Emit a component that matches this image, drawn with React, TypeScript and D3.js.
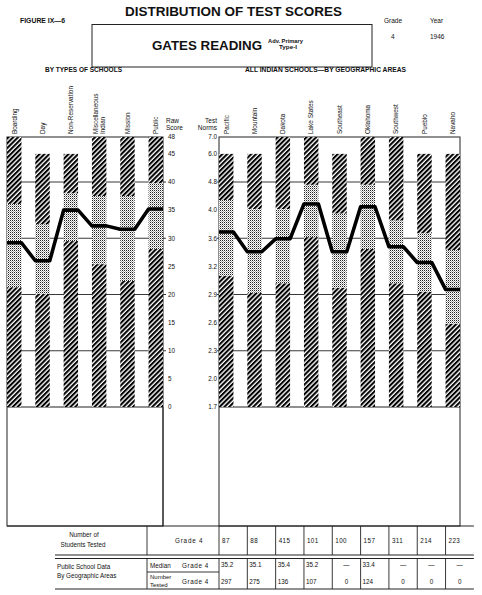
import React from "react";
import * as d3 from "d3";

const schoolTypes = ["Boarding", "Day", "Non-Reservation", "Miscellaneous\nIndian", "Mission", "Public"];
const typeMax = [48, 45, 45, 48, 48, 48];
const typeQ3 = [36.1, 32.5, 38.0, 37.5, 37.5, 39.8];
const typeQ1 = [21.3, 20.1, 29.5, 25.4, 22.4, 28.1];
const typeMedian = [29.2, 26.0, 35.0, 32.2, 31.6, 35.2];

const areas = ["Pacific", "Mountain", "Dakota", "Lake States", "Southeast", "Oklahoma", "Southwest", "Pueblo", "Navaho"];
const areaMax = [45, 45, 48, 48, 45, 48, 48, 45, 45];
const areaQ3 = [36.8, 35.2, 35.2, 39.5, 34.4, 39.5, 33.2, 30.9, 27.9];
const areaQ1 = [23.3, 20.3, 22.0, 30.2, 21.2, 28.1, 22.0, 20.5, 14.8];
const areaMedian = [31.1, 27.6, 29.9, 36.1, 27.6, 35.6, 28.5, 25.7, 20.9];

const rawTicks = [48, 45, 40, 35, 30, 25, 20, 15, 10, 5, 0];
const normLabels = ["7.0", "6.0", "4.8", "4.0", "3.6", "3.2", "2.9", "2.6", "2.3", "2.0", "1.7"];
const gridTicks = [40, 30, 20, 10];

const testedCounts = ["87", "88", "415", "101", "100", "157", "311", "214", "223"];
const publicMedians = ["35.2", "35.1", "35.4", "35.2", "—", "33.4", "—", "—", "—"];
const publicTested = ["297", "275", "136", "107", "0", "124", "0", "0", "0"];

const FONT = "'Liberation Sans', Arial, sans-serif";

function Panel({ cats, maxs, q3s, q1s, meds, x, y, x0, x1 }: any) {
  const line = d3.line<[number, number]>().x((d) => d[0]).y((d) => d[1]);
  const pts: [number, number][] = [];
  cats.forEach((c: string, i: number) => {
    pts.push([x(c), y(meds[i])]);
    pts.push([x(c) + x.bandwidth(), y(meds[i])]);
  });
  return (
    <g>
      {gridTicks.map((t) => (
        <line key={t} x1={x0} x2={x1} y1={y(t)} y2={y(t)} stroke="#222" strokeWidth={0.9} />
      ))}
      {cats.map((c: string, i: number) => {
        const bx = x(c);
        const bw = x.bandwidth();
        return (
          <g key={c}>
            <rect x={bx} width={bw} y={y(q1s[i])} height={y(0) - y(q1s[i])} fill="url(#hatch)" />
            <rect x={bx} width={bw} y={y(q3s[i])} height={y(q1s[i]) - y(q3s[i])} fill="url(#dots)" />
            <rect x={bx} width={bw} y={y(maxs[i])} height={y(q3s[i]) - y(maxs[i])} fill="url(#hatch)" />
          </g>
        );
      })}
      <path d={line(pts) || ""} fill="none" stroke="#000" strokeWidth={3.6} strokeLinejoin="round" />
      {cats.map((c: string) => {
        const lines = c.split("\n");
        const cx = x(c) + x.bandwidth() / 2;
        return lines.map((l, j) => {
          const off = lines.length === 1 ? 2.3 : j === 0 ? -1.6 : 5.6;
          return (
            <text
              key={c + j}
              transform={`translate(${cx + off},134) rotate(-90)`}
              fontSize={6.4}
              fontFamily={FONT}
              fill="#111"
            >
              {l}
            </text>
          );
        });
      })}
    </g>
  );
}

export default function App() {
  const y = d3.scaleLinear().domain([0, 48]).range([407, 137]);
  const xL = d3.scaleBand<string>().domain(schoolTypes).range([7, 163]).paddingInner(0.49).paddingOuter(0);
  const xR = d3.scaleBand<string>().domain(areas).range([219, 460]).paddingInner(0.49).paddingOuter(0);
  const step = xR.step();
  const colStarts = areas.map((a) => xR(a) as number);
  const tableRight = colStarts[colStarts.length - 1] + step;
  const tf = { fontFamily: FONT, fill: "#111" } as any;

  return (
    <svg width={482} height={595} style={{ position: "absolute", left: 0, top: 0, background: "#fff" }}>
      <defs>
        <pattern id="hatch" patternUnits="userSpaceOnUse" width={3.4} height={3.4} patternTransform="rotate(45)">
          <rect width={3.4} height={3.4} fill="#fff" />
          <line x1={1} y1={0} x2={1} y2={3.4} stroke="#000" strokeWidth={2.1} />
        </pattern>
        <pattern id="dots" patternUnits="userSpaceOnUse" width={2} height={2}>
          <rect width={2} height={2} fill="#fff" />
          <rect x={0} y={0} width={1} height={1} fill="#222" />
          <rect x={1} y={1} width={1} height={1} fill="#a8a8a8" />
        </pattern>
      </defs>

      {/* Header */}
      <text x={125} y={16} fontSize={13.5} fontWeight="bold" textLength={217} lengthAdjust="spacingAndGlyphs" {...tf}>
        DISTRIBUTION OF TEST SCORES
      </text>
      <text x={20} y={23} fontSize={6.5} fontWeight="bold" textLength={45} lengthAdjust="spacingAndGlyphs" {...tf}>
        FIGURE IX—6
      </text>
      <rect x={92} y={24.5} width={280} height={42.5} fill="none" stroke="#222" strokeWidth={1} />
      <text x={152} y={50} fontSize={13} fontWeight="bold" textLength={110} lengthAdjust="spacingAndGlyphs" {...tf}>
        GATES READING
      </text>
      <text x={268} y={43} fontSize={5.2} fontWeight="bold" textLength={35} lengthAdjust="spacingAndGlyphs" {...tf}>
        Adv. Primary
      </text>
      <text x={279} y={49} fontSize={5.2} fontWeight="bold" textLength={18} lengthAdjust="spacingAndGlyphs" {...tf}>
        Type-I
      </text>
      <text x={384} y={23} fontSize={6.5} {...tf}>Grade</text>
      <text x={430} y={23} fontSize={6.5} {...tf}>Year</text>
      <text x={391} y={39} fontSize={6.5} {...tf}>4</text>
      <text x={430} y={39} fontSize={6.5} {...tf}>1946</text>
      <text x={45} y={72} fontSize={7} fontWeight="bold" textLength={77} lengthAdjust="spacingAndGlyphs" {...tf}>
        BY TYPES OF SCHOOLS
      </text>
      <text x={245} y={72} fontSize={7} fontWeight="bold" textLength={161} lengthAdjust="spacingAndGlyphs" {...tf}>
        ALL INDIAN SCHOOLS—BY GEOGRAPHIC AREAS
      </text>

      {/* Frames */}
      <rect x={7} y={137} width={156} height={389} fill="none" stroke="#222" strokeWidth={1} />
      <rect x={219} y={137} width={241} height={389} fill="none" stroke="#222" strokeWidth={1} />
      <line x1={7} x2={163} y1={y(0)} y2={y(0)} stroke="#222" strokeWidth={1.2} />
      <line x1={219} x2={460} y1={y(0)} y2={y(0)} stroke="#222" strokeWidth={1.2} />

      <Panel cats={schoolTypes} maxs={typeMax} q3s={typeQ3} q1s={typeQ1} meds={typeMedian} x={xL} y={y} x0={7} x1={166} />
      <Panel cats={areas} maxs={areaMax} q3s={areaQ3} q1s={areaQ1} meds={areaMedian} x={xR} y={y} x0={217} x1={460} />

      {/* Axis labels */}
      <text x={166} y={123} fontSize={6.5} {...tf}>Raw</text>
      <text x={166} y={130} fontSize={6.5} {...tf}>Score</text>
      <text x={217} y={123} fontSize={6.5} textAnchor="end" {...tf}>Test</text>
      <text x={217} y={130} fontSize={6.5} textAnchor="end" {...tf}>Norms</text>
      {rawTicks.map((t, i) => (
        <g key={t}>
          <text x={168} y={y(t) + 2.3} fontSize={6.3} {...tf}>{t}</text>
          <text x={217} y={y(t) + 2.3} fontSize={6.3} textAnchor="end" {...tf}>{normLabels[i]}</text>
        </g>
      ))}

      {/* Table */}
      <line x1={7} x2={tableRight} y1={526} y2={526} stroke="#222" strokeWidth={1} />
      <line x1={55} x2={tableRight} y1={555} y2={555} stroke="#222" strokeWidth={1.2} />
      <line x1={55} x2={tableRight} y1={558.5} y2={558.5} stroke="#222" strokeWidth={1} />
      <line x1={55} x2={tableRight} y1={589} y2={589} stroke="#222" strokeWidth={1} />
      <line x1={147} x2={219} y1={572} y2={572} stroke="#222" strokeWidth={0.9} />
      {[147, 219, ...colStarts.slice(1)].map((cx, i) => (
        <g key={i}>
          <line x1={cx} x2={cx} y1={526} y2={555} stroke="#222" strokeWidth={0.9} />
          <line x1={cx} x2={cx} y1={558.5} y2={589} stroke="#222" strokeWidth={0.9} />
        </g>
      ))}
      <line x1={163} x2={163} y1={407} y2={526} stroke="#222" strokeWidth={1} />

      <text x={84} y={537} fontSize={6.3} textAnchor="middle" {...tf}>Number of</text>
      <text x={83} y={547} fontSize={6.3} textAnchor="middle" {...tf}>Students Tested</text>
      <text x={175} y={543} fontSize={6.3} letterSpacing={0.8} {...tf}>Grade 4</text>
      <text x={57} y={569} fontSize={6.3} {...tf}>Public School Data</text>
      <text x={57} y={578} fontSize={6.3} {...tf}>By Geographic Areas</text>
      <text x={150} y={568} fontSize={6.3} {...tf}>Median</text>
      <text x={182} y={568} fontSize={6.3} letterSpacing={0.6} {...tf}>Grade 4</text>
      <text x={150} y={578.5} fontSize={6} {...tf}>Number</text>
      <text x={150} y={586.5} fontSize={6} {...tf}>Tested</text>
      <text x={182} y={584} fontSize={6.3} letterSpacing={0.6} {...tf}>Grade 4</text>
      {areas.map((a, i) => {
        const cx = colStarts[i];
        const center = cx + step / 2;
        const isDash = publicMedians[i] === "—";
        const isZero = publicTested[i] === "0";
        return (
          <g key={a}>
            <text x={cx + 3} y={543} fontSize={6.3} letterSpacing={0.4} {...tf}>{testedCounts[i]}</text>
            <text x={isDash ? center : cx + 2} y={567} fontSize={6.3} textAnchor={isDash ? "middle" : "start"} {...tf}>
              {publicMedians[i]}
            </text>
            <text x={isZero ? center : cx + 2} y={584} fontSize={6.3} textAnchor={isZero ? "middle" : "start"} {...tf}>
              {publicTested[i]}
            </text>
          </g>
        );
      })}
    </svg>
  );
}
